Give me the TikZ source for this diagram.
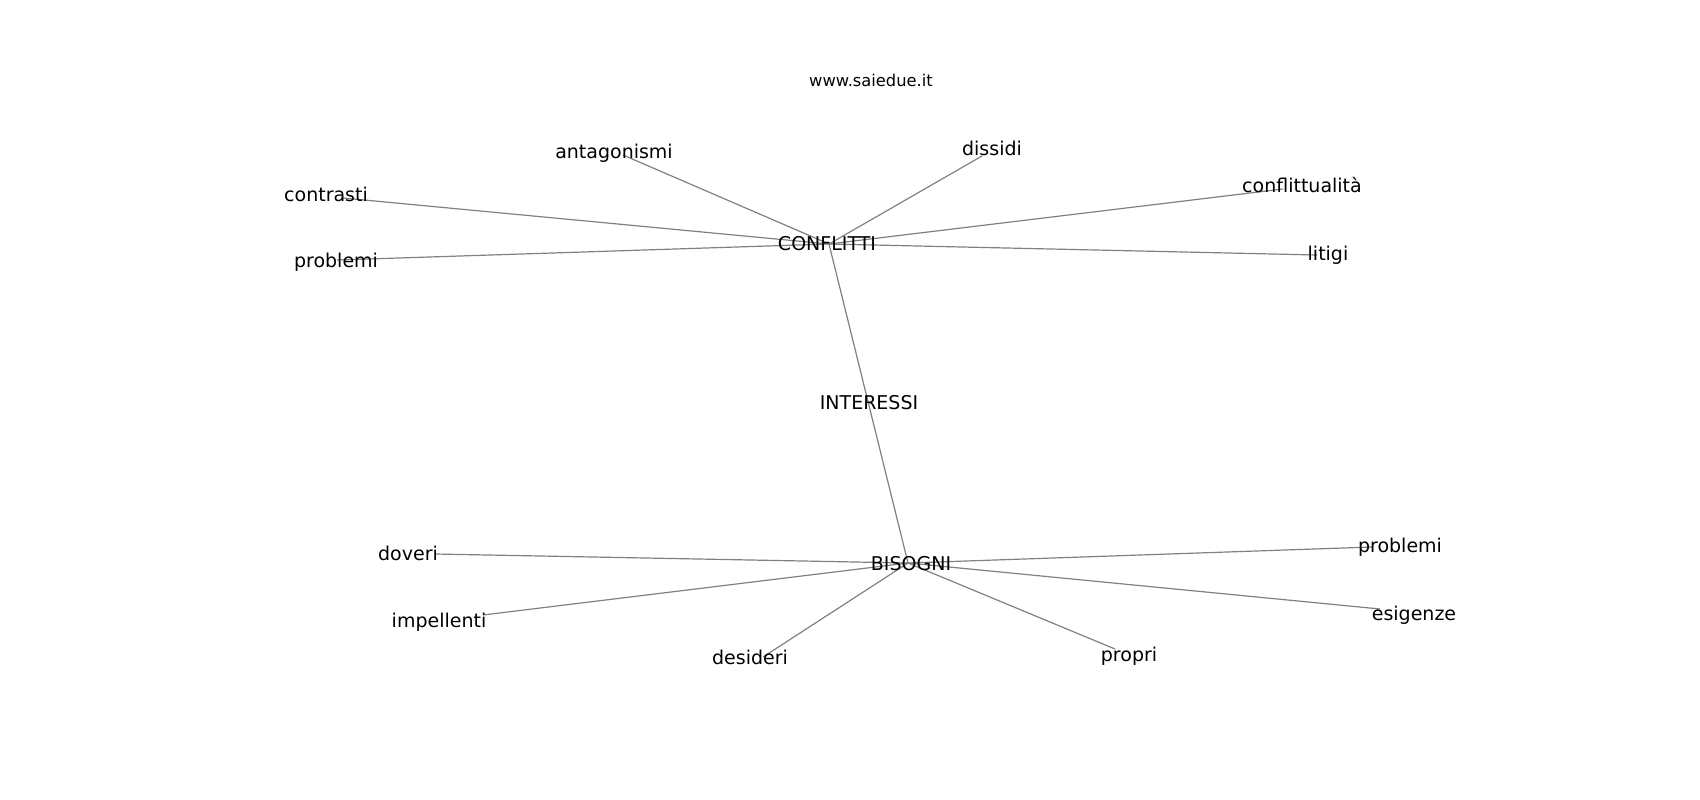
\documentclass[tikz,border=0pt]{standalone}
\usepackage{fontspec}
\setmainfont{DejaVu Sans}
\begin{document}
\begin{tikzpicture}[x=1pt,y=-1pt,
  lbl/.style={inner sep=0pt,anchor=base,font=\fontsize{19}{22}\selectfont},
  url/.style={inner sep=0pt,anchor=base,font=\fontsize{16.3}{19}\selectfont},
  edge/.style={draw=black!50,line width=1.2pt}]
\useasboundingbox (0,0) rectangle (1700,800);
% edge endpoints (node positions)
\coordinate (C) at (829,244);
\coordinate (B) at (908,563);
\coordinate (ant) at (623,155);
\coordinate (dis) at (982,156);
\coordinate (con) at (343,198);
\coordinate (cfl) at (1283,189);
\coordinate (pro1) at (337,260);
\coordinate (lit) at (1317,255);
\coordinate (dov) at (435,554);
\coordinate (imp) at (483,615);
\coordinate (des) at (763,657);
\coordinate (pro2) at (1372,547);
\coordinate (esi) at (1380,609);
\coordinate (prp) at (1115,649);
% edges
\foreach \t in {ant,dis,con,cfl,pro1,lit} \draw[edge] (C) -- (\t);
\foreach \t in {dov,imp,des,pro2,esi,prp} \draw[edge] (B) -- (\t);
\draw[edge] (C) -- (B);
% labels
\node[url] (www) at (871,87) {www.saiedue.it};
\node[lbl] (Lant) at (614,158) {antagonismi};
\node[lbl] (Ldis) at (992,155) {dissidi};
\node[lbl] (Lcon) at (326,201) {contrasti};
\node[lbl] (Lcfl) at (1302,192) {conflittualità};
\node[lbl] (LC) at (827,250) {CONFLITTI};
\node[lbl] (Lpro1) at (336,267) {problemi};
\node[lbl] (Llit) at (1328,260) {litigi};
\node[lbl] (LI) at (869,409) {INTERESSI};
\node[lbl] (Ldov) at (408,560) {doveri};
\node[lbl] (LB) at (911,570) {BISOGNI};
\node[lbl] (Lpro2) at (1400,552) {problemi};
\node[lbl] (Limp) at (439,627) {impellenti};
\node[lbl] (Lesi) at (1414,620) {esigenze};
\node[lbl] (Ldes) at (750,664) {desideri};
\node[lbl] (Lprp) at (1129,661) {propri};
\end{tikzpicture}
\end{document}
